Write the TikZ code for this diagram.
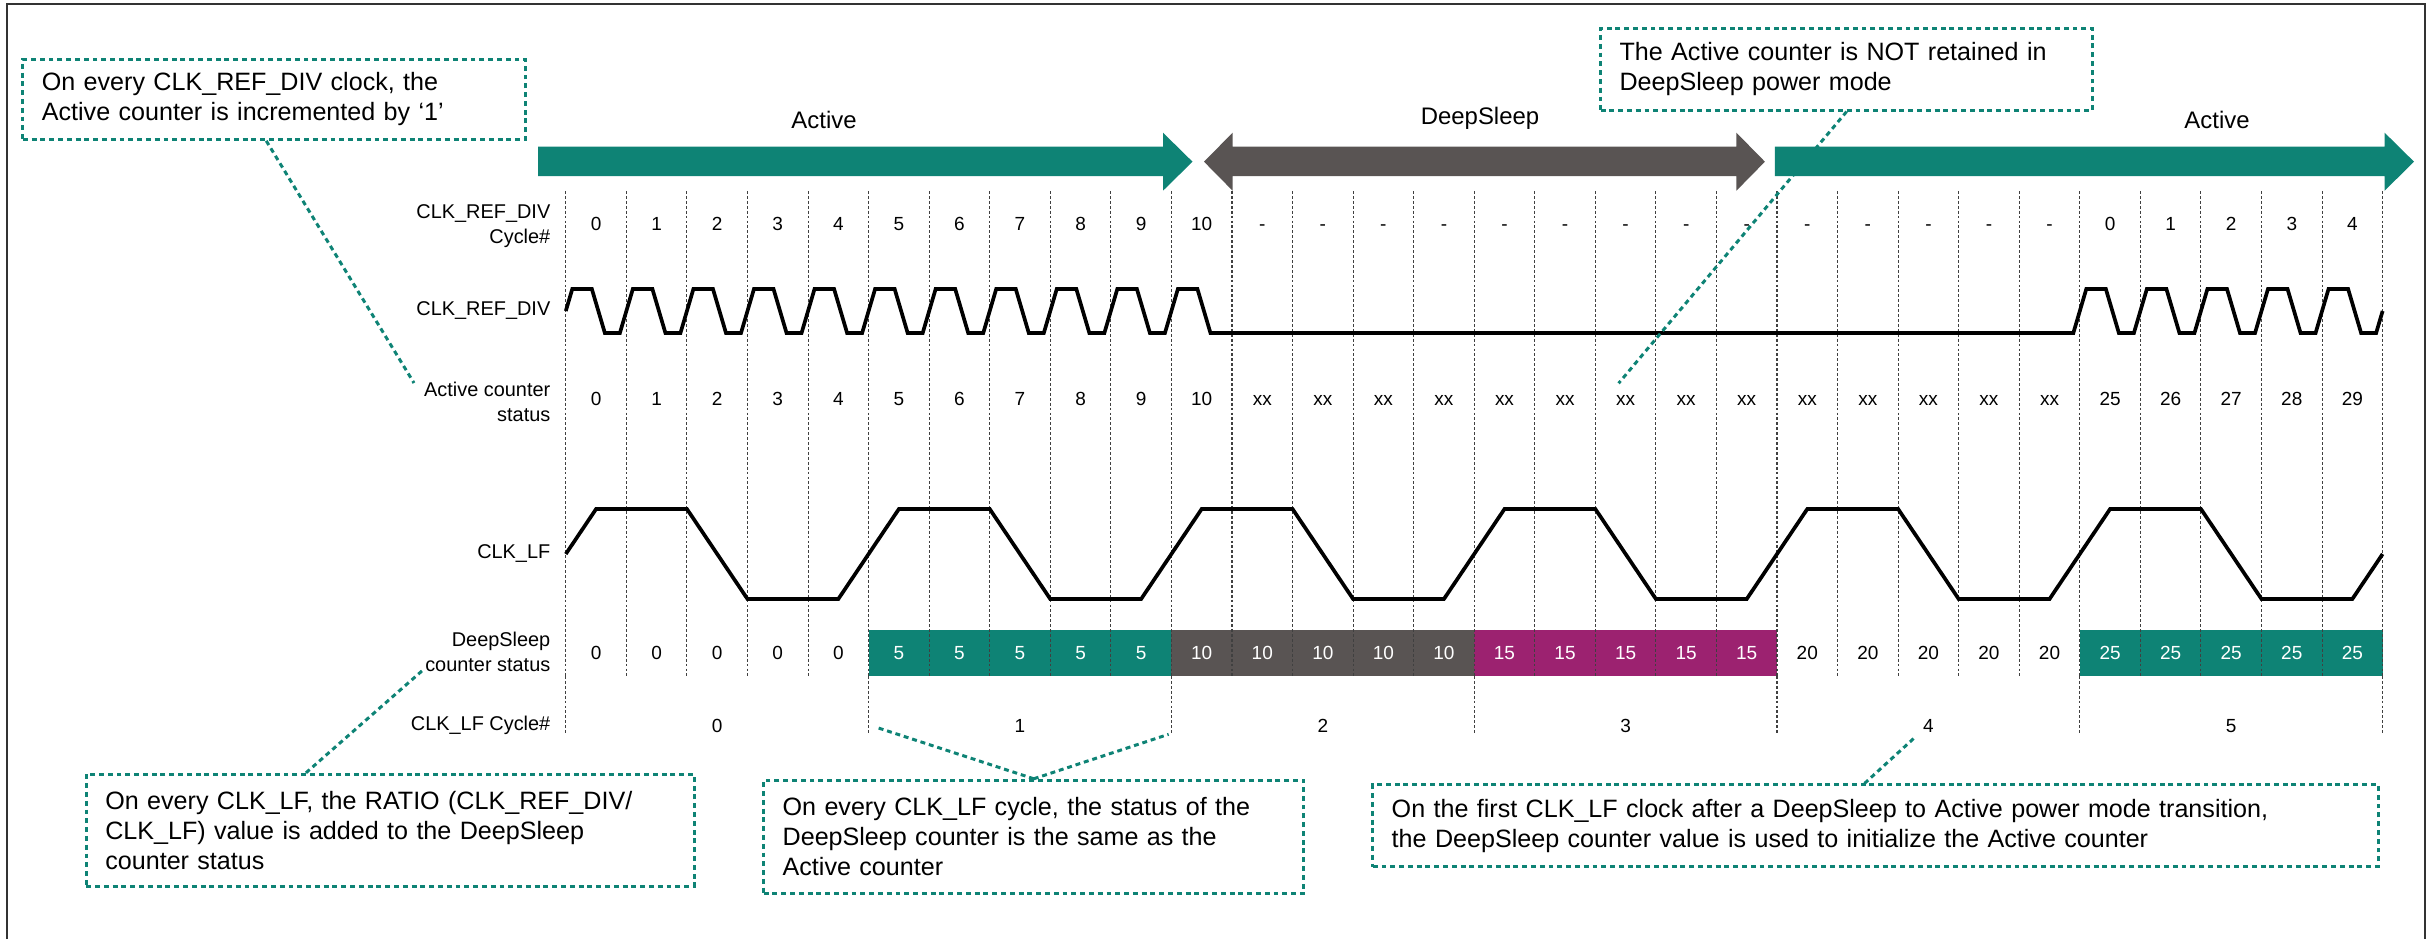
\documentclass[tikz,border=0pt]{standalone}
\usepackage{fontspec}
\setmainfont{Liberation Sans}

\definecolor{activeteal}{RGB}{14,131,117}
\definecolor{sleepgray}{RGB}{89,84,83}
\definecolor{dsmagenta}{RGB}{156,34,112}

% x of the first cycle line and width of one CLK_REF_DIV cycle
\newcommand{\colzero}{565.8}
\newcommand{\colw}{60.56}

\begin{document}
\begin{tikzpicture}
        [
            x=0.01cm, y=-0.01cm,
            frame/.style={draw=black!80, line width=0.8pt},
            cycline/.style={black!75, line width=0.3pt, dash pattern=on 0.8pt off 0.6pt},
            wave/.style={line width=1.05pt, line join=miter},
            lbl/.style={anchor=east, align=right, inner sep=0pt, font=\fontsize{5.66pt}{7pt}\selectfont},
            val/.style={anchor=base, inner sep=0pt, font=\fontsize{5.4pt}{6.5pt}\selectfont},
            phase/.style={anchor=base, inner sep=0pt, font=\fontsize{6.8pt}{8pt}\selectfont},
            notebox/.style={draw=activeteal, line width=0.85pt, dash pattern=on 1.4pt off 1.1pt,
                align=left, inner xsep=0.19cm, inner ysep=0pt, font=\fontsize{7.14pt}{8.55pt}\selectfont},
            noteline/.style={draw=activeteal, line width=0.85pt, dash pattern=on 1.4pt off 1.1pt}
        ]
        \useasboundingbox (0,0) rectangle (2433,939);
        \draw[frame] (7,939) |- (2425,4) -- (2425,939);

        % power mode arrows
        \fill[activeteal] (538,146.7) -- (1163,146.7) -- (1163,132.7) -- (1192.5,161.7) -- (1163,190.7) -- (1163,176) -- (538,176) -- cycle;
        \fill[sleepgray] (1204,161.7) -- (1232.6,132.7) -- (1232.6,146.7) -- (1736.4,146.7) -- (1736.4,132.7) -- (1764.9,161.7)
            -- (1736.4,190.7) -- (1736.4,176) -- (1232.6,176) -- (1232.6,190.7) -- cycle;
        \fill[activeteal] (1774.8,146.7) -- (2384.6,146.7) -- (2384.6,132.7) -- (2414,161.7) -- (2384.6,190.7) -- (2384.6,176) -- (1774.8,176) -- cycle;
        \node[phase] (modeA) at (824,128.5) {Active};
        \node[phase] (modeS) at (1480,124) {DeepSleep};
        \node[phase] (modeB) at (2217,128.5) {Active};

        % DeepSleep counter fills
        \foreach \g/\c in {1/activeteal,2/sleepgray,3/dsmagenta,5/activeteal}
            \fill[\c] ({\colzero+5*\g*\colw},630) rectangle ({\colzero+(5*\g+5)*\colw},676);

        % cycle lines
        \foreach \i in {0,...,30}
            \draw[cycline] ({\colzero+\i*\colw},191) -- ({\colzero+\i*\colw},676);
        \foreach \i in {0,5,...,30}
            \draw[cycline] ({\colzero+\i*\colw},676) -- ({\colzero+\i*\colw},735);

        % row labels
        \node[lbl] (lblcyc) at (551,226) {CLK\_REF\_DIV\\Cycle\#};
        \node[lbl] (lblref) at (551,311) {CLK\_REF\_DIV};
        \node[lbl] (lblact) at (551,402) {Active counter\\status};
        \node[lbl] (lbllf) at (551,554) {CLK\_LF};
        \node[lbl] (lblds) at (551,652) {DeepSleep\\counter status};
        \node[lbl] (lbllfc) at (551,725.5) {CLK\_LF Cycle\#};

        % CLK_REF_DIV cycle numbers and Active counter
        \foreach \v [count=\i from 0] in {0,1,2,3,4,5,6,7,8,9,10,-,-,-,-,-,-,-,-,-,-,-,-,-,-,0,1,2,3,4}
            \node[val] (cyc\i) at ({\colzero+(\i+0.5)*\colw},230.7) {\v};
        \foreach \v [count=\i from 0] in {0,1,2,3,4,5,6,7,8,9,10,xx,xx,xx,xx,xx,xx,xx,xx,xx,xx,xx,xx,xx,xx,25,26,27,28,29}
            \node[val] (act\i) at ({\colzero+(\i+0.5)*\colw},405.7) {\v};

        % DeepSleep counter
        \foreach \g/\tc in {0/black,1/white,2/white,3/white,4/black,5/white}
            \foreach \j in {0,...,4} {
                \pgfmathtruncatemacro{\dsv}{5*\g}
                \node[val, text=\tc] (ds\g\j) at ({\colzero+(5*\g+\j+0.5)*\colw},659.3) {\dsv};
            }
        \foreach \g in {0,...,5}
            \node[val] (lfc\g) at ({\colzero+(5*\g+2.5)*\colw},732) {\g};

        % clocks
        \draw[wave] ({\colzero},311)
            \foreach \i in {0,...,10} {
                -- ({\colzero+(\i+0.107)*\colw},289) -- ({\colzero+(\i+0.43)*\colw},289)
                -- ({\colzero+(\i+0.645)*\colw},333) -- ({\colzero+(\i+0.893)*\colw},333)}
            -- ({\colzero+24.893*\colw},333)
            \foreach \i in {25,...,29} {
                -- ({\colzero+(\i+0.107)*\colw},289) -- ({\colzero+(\i+0.43)*\colw},289)
                -- ({\colzero+(\i+0.645)*\colw},333) -- ({\colzero+(\i+0.893)*\colw},333)}
            -- ({\colzero+30*\colw},311);
        \draw[wave] ({\colzero},554)
            \foreach \k in {0,...,5} {
                -- ({\colzero+(5*\k+0.5)*\colw},509) -- ({\colzero+(5*\k+2)*\colw},509)
                -- ({\colzero+(5*\k+3)*\colw},599) -- ({\colzero+(5*\k+4.5)*\colw},599)}
            -- ({\colzero+30*\colw},554);

        % notes
        \node[notebox, minimum width=5.025cm, minimum height=0.8cm, text width=4.645cm] (annA) at (274.25,99.3)
            {On every CLK\_REF\_DIV clock, the\\Active counter is incremented by ‘1’};
        \node[notebox, minimum width=4.918cm, minimum height=0.817cm, text width=4.538cm] (annB) at (1846.6,69.2)
            {The Active counter is NOT retained in\\DeepSleep power mode};
        \node[notebox, minimum width=6.075cm, minimum height=1.117cm, text width=5.695cm] (annC) at (390.25,830.2)
            {On every CLK\_LF, the RATIO (CLK\_REF\_DIV/\\CLK\_LF) value is added to the DeepSleep\\counter status};
        \node[notebox, minimum width=5.4cm, minimum height=1.13cm, text width=5.02cm] (annD) at (1033.8,836.8)
            {On every CLK\_LF cycle, the status of the\\DeepSleep counter is the same as the\\Active counter};
        \node[notebox, minimum width=10.05cm, minimum height=0.817cm, text width=9.67cm] (annE) at (1875.5,825.8)
            {On the first CLK\_LF clock after a DeepSleep to Active power mode transition,\\the DeepSleep counter value is used to initialize the Active counter};

        \coordinate (tipA) at (414,383);
        \coordinate (tipB) at (1618.6,383.3);
        \coordinate (tipC) at (423,670);
        \coordinate (tipDl) at (876.3,727.3);
        \coordinate (tipDr) at (1168.6,734.3);
        \coordinate (tipE) at (1915.6,736.7);
        \path ([xshift=-0.08cm]annA.south) edge[noteline] (tipA)
        (annB.south) edge[noteline] (tipB)
        ([xshift=2.21cm]annC.north west) edge[noteline] (tipC)
        (annD.north) edge[noteline] (tipDl) edge[noteline] (tipDr)
        ([xshift=-0.11cm]annE.north) edge[noteline] (tipE);
    \end{tikzpicture}
\end{document}
